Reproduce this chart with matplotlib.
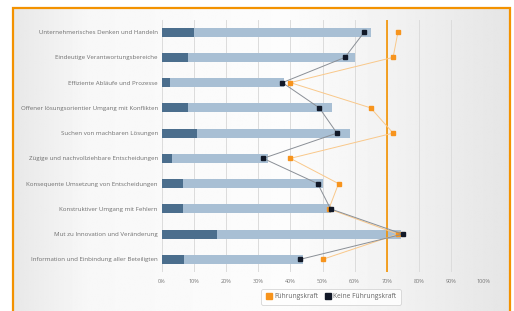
import matplotlib
matplotlib.use("Agg")
import matplotlib.pyplot as plt
import numpy as np
from matplotlib.patches import Rectangle
from matplotlib.lines import Line2D

categories = [
    "Unternehmerisches Denken und Handeln",
    "Eindeutige Verantwortungsbereiche",
    "Effiziente Abläufe und Prozesse",
    "Offener lösungsorientier Umgang mit Konflikten",
    "Suchen von machbaren Lösungen",
    "Zügige und nachvollziehbare Entscheidungen",
    "Konsequente Umsetzung von Entscheidungen",
    "Konstruktiver Umgang mit Fehlern",
    "Mut zu Innovation und Veränderung",
    "Information und Einbindung aller Beteiligten",
]
total_bar = [65, 60, 38, 53, 58.5, 33, 50, 52.5, 74.5, 44]
dark_bar = [10, 8, 2.5, 8, 11, 3, 6.5, 6.5, 17, 7]
keine_fk = [63, 57, 37.5, 49, 54.5, 31.5, 48.5, 52.5, 75, 43]
fuehrungskraft = [73.5, 72, 40, 65, 72, 40, 55, 52, 73.5, 50]
threshold = 70
xticks = [0, 10, 20, 30, 40, 50, 60, 70, 80, 90, 100]
xtick_labels = ["0%", "10%", "20%", "30%", "40%", "50%", "60%", "70%", "80%", "90%", "100%"]
legend_labels = ["Führungskraft", "Keine Führungskraft"]

W, H = 514, 311
fig = plt.figure(figsize=(W / 100, H / 100), dpi=100)
fig.patch.set_facecolor("white")

# background gradient inside orange frame
bg = fig.add_axes([13 / W, 0, (510 - 13) / W, 1 - 8 / H], zorder=0)
xs = np.linspace(0, 1, 300)
prof = np.interp(xs, [0, 0.15, 0.55, 1.0], [0.91, 0.97, 0.99, 0.9])
bg.imshow(np.tile(prof, (10, 1)), cmap="gray", vmin=0, vmax=1, aspect="auto",
          extent=[0, 1, 0, 1])
bg.set_axis_off()
fig.patches.append(Rectangle((13 / W, -0.05), (510 - 13) / W, 1.05 - 8 / H,
                             transform=fig.transFigure, fill=False,
                             edgecolor="#f39200", linewidth=1.6, zorder=5))

ax = fig.add_axes([162 / W, 1 - 272 / H, (483 - 162) / W, (272 - 19.5) / H], zorder=1)
ax.patch.set_alpha(0)
font = "Open Sans"
y = np.arange(len(categories))
ax.barh(y, total_bar, height=0.36, color="#a8bfd4", zorder=2)
ax.barh(y, dark_bar, height=0.36, color="#4b6e8d", zorder=3)
ax.axvline(threshold, color="#f39200", linewidth=1.2, zorder=4)
ax.plot(fuehrungskraft, y, color="#f9c88a", linewidth=0.7, zorder=5)
ax.plot(fuehrungskraft, y, linestyle="none", marker="s", markersize=3.3,
        color="#f7941d", zorder=6)
ax.plot(keine_fk, y, color="#8a8f96", linewidth=0.7, zorder=7)
ax.plot(keine_fk, y, linestyle="none", marker="s", markersize=3.3,
        color="#111827", zorder=8)

ax.set_xlim(0, 100)
ax.set_ylim(9.5, -0.5)
ax.set_xticks(xticks)
ax.set_xticklabels(xtick_labels, fontsize=4.0, color="#777777", family=font)
ax.set_yticks(y)
ax.set_yticklabels(categories, fontsize=4.4, color="#6f6f6f", family=font)
ax.tick_params(length=0, pad=3)
ax.tick_params(axis="x", pad=5)
ax.grid(axis="x", color="#dcdcdc", linewidth=0.7, zorder=0)
ax.set_axisbelow(True)
for s in ax.spines.values():
    s.set_visible(False)

handles = [Line2D([], [], linestyle="none", marker="s", markersize=5, color="#f7941d"),
           Line2D([], [], linestyle="none", marker="s", markersize=5, color="#111827")]
leg = fig.legend(handles, legend_labels, loc="center", bbox_to_anchor=(331 / W, 1 - 297 / H),
                 ncol=2, frameon=True, handletextpad=0.3, columnspacing=1.0,
                 borderpad=0.5, handlelength=1.0, prop={"family": font, "size": 4.8})
leg.get_frame().set_edgecolor("#cccccc")
leg.get_frame().set_linewidth(0.6)
leg.get_frame().set_boxstyle("round,pad=0.2,rounding_size=0.3")
for t in leg.get_texts():
    t.set_color("#666666")

fig.savefig("out.png", dpi=100)
